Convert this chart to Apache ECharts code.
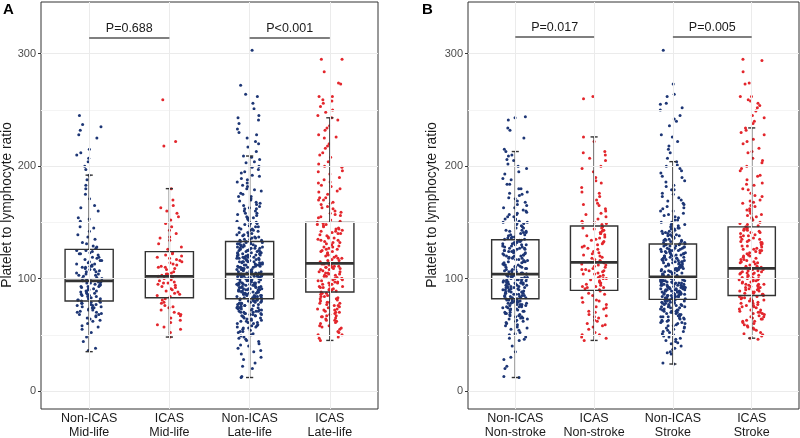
<!DOCTYPE html>
<html>
<head>
<meta charset="utf-8">
<script src="https://cdn.jsdelivr.net/npm/echarts@6/dist/echarts.min.js"></script>
<style>
html,body{margin:0;padding:0;background:#fff;}
#chart{width:800px;height:438px;}
</style>
</head>
<body>
<div id="chart"></div>
<script>
// ---------- DATA ----------
const categoriesA = ['Non-ICAS\nMid-life', 'ICAS\nMid-life', 'Non-ICAS\nLate-life', 'ICAS\nLate-life'];
const categoriesB = ['Non-ICAS\nNon-stroke', 'ICAS\nNon-stroke', 'Non-ICAS\nStroke', 'ICAS\nStroke'];
const yTicks = [0, 100, 200, 300];
const pValuesA = ['P=0.688', 'P<0.001'];
const pValuesB = ['P=0.017', 'P=0.005'];
const bracketY = [314, 315];

// box stats: [lower whisker, Q1, median, Q3, upper whisker]
const boxA = [[35, 80, 98, 126, 192], [48, 83, 102, 124, 180], [12, 82, 104, 133, 209], [45, 88, 113.5, 150, 243]];
const boxB = [[12, 82, 104, 134.5, 213], [45, 89.5, 114.4, 146.7, 226], [24, 81.5, 101.6, 130.7, 204], [47, 85, 109, 146, 234]];

// individual PLR values
const ptsA1 = [36,38,44,48,52,55,57,60,62,63,65,66,67,68,69,70,71,72,73,74,75,75,76,77,78,79,79,80,81,82,82,83,84,85,85,86,87,88,88,89,90,90,91,92,93,93,94,95,95,96,97,97,98,99,100,101,102,103,104,105,106,107,108,109,110,111,112,113,114,115,116,117,118,119,121,122,123,124,125,127,129,131,135,137,142,145,151,154,160,163,171,175,183,188,192,197,200,204,207,210,212,225,228,232,235,237,245,
  58,64,68,72,74,76,78,80,70,77,81,84,86,89,91,93,96,98,87,94,100,103,106,108,111,113,116,119,122,125,104,110,128,132,139,146,153,165,180,215];
const ptsA2 = [48,52,55,57,59,61,63,65,67,69,70,72,74,76,78,79,81,82,84,85,86,88,89,90,91,92,93,94,95,96,97,98,99,100,101,102,103,104,105,106,108,109,110,111,112,113,114,115,116,117,119,120,122,123,126,128,131,134,137,140,143,146,149,152,155,160,163,165,170,180,218,222,259,
  68,75,87,96,104,110,118,121,136,158];
const ptsA3 = [12,13,20,22,25,28,33,35,38,40,42,44,46,47,48,50,51,52,53,54,55,56,57,58,59,60,61,62,63,64,65,66,67,68,68,69,70,70,71,72,72,73,74,74,75,76,76,77,78,78,79,80,80,81,81,
  82,82,83,83,84,84,85,85,86,86,87,87,88,88,89,89,90,90,91,91,92,92,93,93,94,94,95,95,96,96,97,97,98,98,99,99,100,100,100,101,101,101,102,102,102,103,103,103,104,104,85,90,95,88,92,
  105,105,106,106,107,107,108,108,109,110,110,111,111,112,113,113,114,115,115,116,117,117,118,119,119,120,121,121,122,123,123,124,125,125,126,127,127,128,129,129,130,131,131,132,132,133,110,115,120,125,108,112,118,122,128,
  134,135,136,137,138,139,140,141,142,143,144,145,146,148,149,150,151,153,154,155,157,158,160,162,163,165,167,169,171,173,175,178,180,183,186,189,192,195,199,203,206,209,213,217,220,225,228,233,238,243,245,251,256,262,272,303,
  45,49,53,56,58,60,62,63,64,65,66,67,67,68,69,69,70,71,71,72,73,73,74,75,75,76,77,77,78,79,79,80,80,81,81,30,36,41,57,61,
  82,83,84,84,85,86,86,87,88,88,89,90,90,91,92,92,93,94,94,95,96,96,97,98,98,99,100,100,101,102,102,103,103,104,83,87,91,95,99,101,
  105,106,107,108,109,110,111,112,113,114,115,116,117,118,119,120,121,122,123,124,125,126,127,128,129,130,131,132,133,106,109,112,115,118,121,124,127,130,114,119,
  134,135,136,137,138,139,140,141,143,144,146,147,149,150,152,154,156,158,160,162,164,166,168,170,173,176,179,182,185,188,191,194,197,200,204,208,222,230,241,264];
const ptsA4 = [45,47,48,50,52,53,55,56,57,58,60,61,62,63,64,65,66,67,68,69,70,71,72,73,74,75,76,77,78,79,80,81,82,83,84,86,87,
  88,89,90,90,91,92,93,93,94,95,96,96,97,98,99,99,100,101,102,102,103,104,105,105,106,107,108,108,109,110,110,111,112,112,113,113,100,
  114,115,116,117,118,119,120,121,122,123,124,125,126,127,128,129,130,131,132,133,134,135,136,137,138,139,140,141,142,143,144,145,146,147,148,149,150,
  152,154,156,158,160,162,164,166,168,170,172,175,178,180,183,186,190,193,196,200,204,208,212,216,220,225,228,232,236,241,243,245,248,250,253,256,258,259,262,262,273,274,284,295,295,
  50,58,63,67,70,73,76,79,82,85,66,72,78,84,87,89,92,95,97,100,103,106,109,111,91,98,104,110,116,120,124,128,132,136,140,144,148,118,126,134,142,151,155,159,163,167,172,177,182,188,195,202,210,218,226,234,157,170,185,199];
const ptsB1 = [12,13,20,22,28,30,35,40,45,47,48,50,52,54,56,57,58,60,61,62,63,64,65,66,67,68,69,70,71,72,73,74,75,76,77,77,78,79,79,80,80,81,
  82,83,83,84,85,85,86,86,87,88,88,89,89,90,90,91,92,92,93,93,94,95,95,96,96,97,97,98,98,99,99,100,100,101,101,102,102,103,103,104,87,94,
  105,106,106,107,108,109,109,110,111,112,112,113,114,115,115,116,117,118,118,119,120,121,121,122,123,124,124,125,126,127,127,128,129,130,130,131,132,133,134,110,120,125,
  135,136,137,138,139,140,141,142,143,145,146,148,149,150,152,153,155,157,159,161,163,165,168,171,174,177,180,184,188,193,198,202,205,209,213,215,225,232,234,241,243,244,
  46,51,55,59,62,64,66,68,69,70,71,72,73,74,75,75,76,77,78,78,79,80,80,81,81,65,67,72,76,79,
  82,83,84,85,86,87,88,89,90,91,92,93,94,95,96,97,98,99,100,101,102,103,104,84,88,92,96,100,90,98,
  105,106,107,108,110,111,112,113,114,116,117,118,119,120,122,123,124,125,126,127,128,129,130,131,132,133,134,108,115,121,
  135,137,139,141,143,145,147,149,151,153,155,158,160,163,166,169,172,176,180,184,189,195,200,206,210,136,142,150,157,175];
const ptsB2 = [45,47,48,50,52,55,57,59,60,62,63,65,67,68,70,71,73,75,77,79,81,83,85,87,89,
  90,91,92,93,94,95,96,97,98,99,100,101,102,103,104,105,106,107,108,109,110,111,112,113,114,
  115,117,118,120,121,123,124,126,127,129,130,132,133,135,136,137,138,139,140,141,142,143,144,145,146,
  148,149,150,151,153,155,157,160,162,165,167,170,173,177,181,185,190,195,200,205,207,210,213,222,226,260,262,
  50,58,66,74,80,86,92,96,100,104,108,112,93,107,116,122,128,134,140,145,119,131,150,158,166,176,187,198,212,143];
const ptsB3 = [24,25,33,34,35,38,40,42,44,46,47,48,50,51,52,53,54,55,56,57,58,59,60,61,62,63,64,65,66,67,68,69,70,70,71,72,72,73,74,75,75,76,77,77,78,79,79,80,80,81,
  82,82,83,83,84,84,85,85,86,86,87,87,88,88,89,89,90,90,91,91,92,92,93,93,94,94,95,95,96,96,97,97,98,98,99,99,100,100,101,101,84,86,88,90,92,94,96,98,100,91,
  102,103,103,104,105,105,106,107,107,108,109,109,110,111,111,112,113,113,114,115,115,116,117,117,118,119,119,120,121,121,122,123,123,124,125,125,126,127,127,128,129,129,130,130,106,110,114,118,122,126,
  131,132,133,134,135,136,137,138,139,140,141,142,144,145,147,148,150,152,154,156,158,160,162,164,167,170,173,176,179,182,186,190,194,198,201,204,207,212,215,218,222,226,228,236,240,242,245,250,252,255,256,262,264,273,303,
  37,43,45,49,53,56,58,60,62,63,64,65,66,67,68,69,70,71,72,73,74,75,76,76,77,78,78,79,80,80,81,81,61,66,71,
  82,83,84,85,86,87,88,89,90,91,92,93,94,95,96,97,98,99,100,101,82,84,86,88,90,92,94,96,98,100,85,89,93,97,101,
  102,103,104,105,106,107,108,109,110,111,112,113,114,115,116,117,118,119,120,121,122,123,124,125,126,127,128,129,130,104,108,112,116,120,124,
  131,132,133,134,135,136,137,138,139,140,142,143,145,146,148,150,152,155,157,160,163,166,169,172,175,179,183,187,191,196,200,134,138,141,144];
const ptsB4 = [46,47,49,50,52,54,55,56,58,59,60,61,62,63,64,65,66,67,68,69,70,71,72,73,74,75,76,77,78,79,80,80,81,82,83,84,84,
  85,86,87,88,88,89,90,91,91,92,93,94,94,95,96,97,97,98,99,100,100,101,102,103,103,104,105,106,106,107,108,108,109,90,95,100,105,
  110,111,112,113,114,115,116,117,118,119,120,121,122,123,124,125,126,127,128,129,130,131,132,133,134,135,136,137,138,139,140,141,142,143,144,145,146,
  147,148,150,152,154,156,158,160,162,164,167,170,173,176,180,184,188,192,196,200,203,207,212,216,220,224,228,232,234,238,240,243,245,249,252,254,256,258,259,262,262,273,274,284,294,295,
  51,57,62,66,69,72,75,78,81,83,64,70,76,82,86,89,92,95,98,101,104,107,87,93,99,105,111,114,117,120,123,126,129,132,135,138,141,144,115,125,133,143,149,153,157,161,165,169,174,179,185,191,198,205,213,222,230,155,168,183];

// ---------- STYLE / BUILD ----------
const NAVY = '#1d3675', RED = '#e3262c';
const FONT = "'Liberation Sans', Arial, Helvetica, sans-serif";
const panels = [
  {cats: categoriesA, box: boxA, pts: [ptsA1, ptsA2, ptsA3, ptsA4], p: pValuesA},
  {cats: categoriesB, box: boxB, pts: [ptsB1, ptsB2, ptsB3, ptsB4], p: pValuesB}
];
const colorsByGroup = [NAVY, RED, NAVY, RED];

// deterministic horizontal jitter (position only, integer hash)
function jitter(i, g) {
  let h = Math.imul(i + 1, 0x9E3779B1) ^ Math.imul(g + 7, 0x85EBCA77);
  h ^= h >>> 15; h = Math.imul(h, 0x2C1B3C6D);
  h ^= h >>> 12; h = Math.imul(h, 0x297A2D39);
  h ^= h >>> 15;
  return ((h >>> 0) / 4294967296 - 0.5) * 0.32;
}

const grids = [
  {left: 41, top: 2, width: 337, height: 407},
  {left: 468, top: 2, width: 331, height: 407}
].map(g => Object.assign(g, {show: true, borderColor: '#333333', borderWidth: 1, backgroundColor: 'transparent', containLabel: false, outerBoundsMode: 'none'}));

const xAxes = panels.map((pn, k) => ({
  type: 'value', gridIndex: k, min: 0.4, max: 4.6,
  axisLine: {show: false}, splitLine: {show: false},
  axisTick: {show: true, customValues: [1, 2, 3, 4], length: 3, lineStyle: {color: '#333333'}},
  axisLabel: {customValues: [1, 2, 3, 4], formatter: v => pn.cats[Math.round(v) - 1] || '',
    color: '#1a1a1a', fontSize: 12.5, fontFamily: FONT, lineHeight: 14, margin: 3}
}));
const yAxes = panels.map((pn, k) => ({
  type: 'value', gridIndex: k, min: -16, max: 346,
  axisLine: {show: false}, splitLine: {show: false},
  axisTick: {show: true, customValues: yTicks, length: 3, lineStyle: {color: '#333333'}},
  axisLabel: {customValues: yTicks, color: '#4d4d4d', fontSize: 11, fontFamily: FONT, margin: 5}
}));

const series = [];
panels.forEach((pn, k) => {
  // gridlines
  const gl = [];
  [0, 100, 200, 300].forEach(v => gl.push({yAxis: v, lineStyle: {color: '#ebebeb', width: 1, type: 'solid'}}));
  [50, 150, 250].forEach(v => gl.push({yAxis: v, lineStyle: {color: '#f4f4f4', width: 1, type: 'solid'}}));
  [1, 2, 3, 4].forEach(v => gl.push({xAxis: v, lineStyle: {color: '#ebebeb', width: 1, type: 'solid'}}));
  series.push({type: 'scatter', xAxisIndex: k, yAxisIndex: k, data: [], z: 1, silent: true,
    markLine: {silent: true, symbol: ['none', 'none'], label: {show: false}, animation: false, data: gl}});
  // points
  pn.pts.forEach((vals, g) => {
    series.push({
      type: 'scatter', xAxisIndex: k, yAxisIndex: k, z: 2, silent: true,
      symbolSize: 3, itemStyle: {color: colorsByGroup[g], opacity: 1},
      data: vals.map((v, i) => [g + 1 + jitter(i, g + 4 * k), v])
    });
  });
  // boxes
  series.push({
    type: 'custom', xAxisIndex: k, yAxisIndex: k, z: 3, silent: true,
    data: pn.box.map((b, g) => [g + 1].concat(b)),
    encode: {x: 0, y: [1, 2, 3, 4, 5]},
    renderItem: function (params, api) {
      const x = api.value(0);
      const lo = api.value(1), q1 = api.value(2), md = api.value(3), q3 = api.value(4), hi = api.value(5);
      const hw = 0.3, cw = 0.045;
      const pL = api.coord([x - hw, q3]), pR = api.coord([x + hw, q1]);
      const c = api.coord([x, md]);
      const pHi = api.coord([x, hi]), pLo = api.coord([x, lo]);
      const pQ3 = api.coord([x, q3]), pQ1 = api.coord([x, q1]);
      const cL = api.coord([x - cw, hi])[0], cR = api.coord([x + cw, hi])[0];
      const st = {stroke: '#333333', lineWidth: 1.4, fill: null};
      return {type: 'group', children: [
        {type: 'line', shape: {x1: pHi[0], y1: pHi[1], x2: pQ3[0], y2: pQ3[1]}, style: st},
        {type: 'line', shape: {x1: pQ1[0], y1: pQ1[1], x2: pLo[0], y2: pLo[1]}, style: st},
        {type: 'line', shape: {x1: cL, y1: pHi[1], x2: cR, y2: pHi[1]}, style: st},
        {type: 'line', shape: {x1: cL, y1: pLo[1], x2: cR, y2: pLo[1]}, style: st},
        {type: 'rect', shape: {x: pL[0], y: pL[1], width: pR[0] - pL[0], height: pR[1] - pL[1]}, style: {stroke: '#333333', lineWidth: 1.4, fill: 'rgba(0,0,0,0)'}},
        {type: 'line', shape: {x1: pL[0], y1: c[1], x2: pR[0], y2: c[1]}, style: {stroke: '#333333', lineWidth: 2.8}}
      ]};
    },
    markLine: {
      silent: true, symbol: ['none', 'none'], animation: false,
      lineStyle: {color: '#7f7f7f', width: 1.8, type: 'solid'},
      label: {show: true, position: 'insideMiddleTop', distance: 3, color: '#1a1a1a', fontSize: 12.5, fontFamily: FONT, formatter: p => p.name},
      data: [
        [{name: pn.p[0], coord: [1, bracketY[k]]}, {coord: [2, bracketY[k]]}],
        [{name: pn.p[1], coord: [3, bracketY[k]]}, {coord: [4, bracketY[k]]}]
      ]
    }
  });
});

const option = {
  animation: false,
  backgroundColor: '#ffffff',
  grid: grids,
  xAxis: xAxes,
  yAxis: yAxes,
  series: series,
  graphic: [
    {type: 'text', x: 3, y: 10, style: {text: 'A', font: 'bold 15px ' + FONT, fill: '#000', textVerticalAlign: 'middle'}},
    {type: 'text', x: 422, y: 10, style: {text: 'B', font: 'bold 15px ' + FONT, fill: '#000', textVerticalAlign: 'middle'}},
    {type: 'text', x: 7, y: 205, rotation: Math.PI / 2, style: {text: 'Platelet to lymphocyte ratio', font: '13.8px ' + FONT, fill: '#1a1a1a', textAlign: 'center', textVerticalAlign: 'middle'}},
    {type: 'text', x: 432, y: 205, rotation: Math.PI / 2, style: {text: 'Platelet to lymphocyte ratio', font: '13.8px ' + FONT, fill: '#1a1a1a', textAlign: 'center', textVerticalAlign: 'middle'}}
  ]
};

const chart = echarts.init(document.getElementById('chart'), null, {renderer: 'canvas'});
chart.setOption(option);
</script>
</body>
</html>
